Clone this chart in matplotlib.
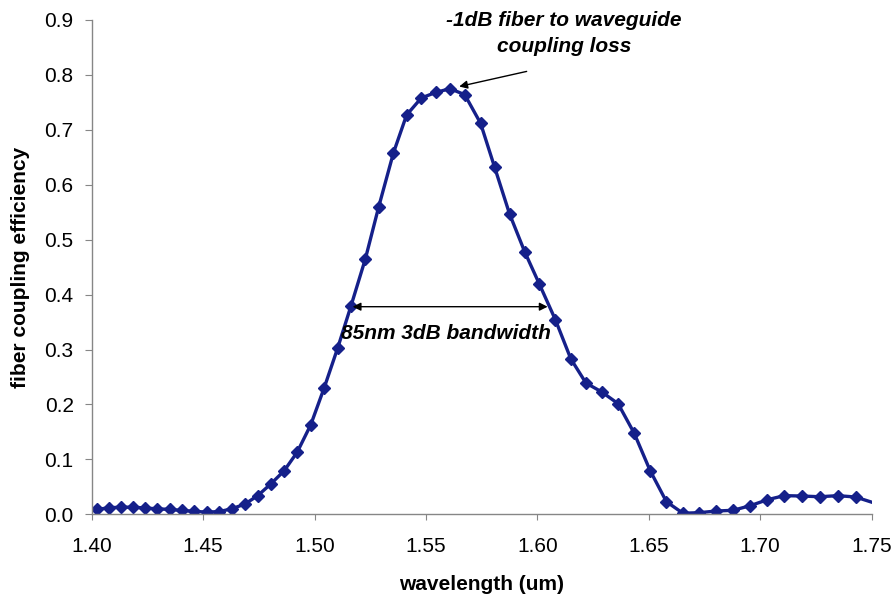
import matplotlib
matplotlib.use('Agg')
from matplotlib import pyplot as plt

plt.rcParams['font.family'] = ['Liberation Sans', 'DejaVu Sans']

# wavelength (um) and coupling efficiency
wavelength = [1.4025, 1.4078, 1.4132, 1.4187, 1.4241, 1.4294, 1.4350, 1.4404,
              1.4459, 1.4516, 1.4572, 1.4629, 1.4689, 1.4745, 1.4803, 1.4863,
              1.4922, 1.4983, 1.5043, 1.5104, 1.5164, 1.5228, 1.5288, 1.5354,
              1.5413, 1.5479, 1.5543, 1.5608, 1.5674, 1.5745, 1.5808, 1.5875,
              1.5943, 1.6009, 1.6081, 1.6150, 1.6218, 1.6288, 1.6362, 1.6434,
              1.6506, 1.6579, 1.6653, 1.6727, 1.6802, 1.6878, 1.6955, 1.7032,
              1.7108, 1.7187, 1.7267, 1.7348, 1.7428, 1.7524]
efficiency = [0.009, 0.012, 0.013, 0.013, 0.0115, 0.010, 0.009, 0.007,
              0.0055, 0.004, 0.005, 0.010, 0.019, 0.034, 0.055, 0.079,
              0.113, 0.163, 0.230, 0.303, 0.380, 0.465, 0.560, 0.658,
              0.727, 0.758, 0.768, 0.775, 0.764, 0.712, 0.632, 0.547,
              0.478, 0.419, 0.354, 0.283, 0.239, 0.223, 0.2015, 0.148,
              0.0795, 0.023, 0.002, 0.003, 0.006, 0.0073, 0.0157, 0.0266,
              0.034, 0.0333, 0.032, 0.034, 0.0315, 0.019]

xticks = [1.40, 1.45, 1.50, 1.55, 1.60, 1.65, 1.70, 1.75]
yticks = [0.0, 0.1, 0.2, 0.3, 0.4, 0.5, 0.6, 0.7, 0.8, 0.9]

navy = '#15208a'
grey = '#868686'
fs = 15

fig = plt.figure(figsize=(8.92, 5.95), dpi=100)
ax = fig.add_axes([0.1028, 0.1356, 0.8744, 0.8308])

ax.plot(wavelength, efficiency, color=navy, lw=2.4, marker='D', ms=6.3,
        markevery=list(range(len(wavelength) - 1)))

ax.set_xlim(1.40, 1.75)
ax.set_ylim(0.0, 0.9)
ax.set_xticks(xticks)
ax.set_xticklabels(['%.2f' % t for t in xticks])
ax.set_yticks(yticks)
ax.set_yticklabels(['%.1f' % t for t in yticks])

for s in ('top', 'right'):
    ax.spines[s].set_visible(False)
for s in ('left', 'bottom'):
    ax.spines[s].set_color(grey)
    ax.spines[s].set_linewidth(1)
ax.tick_params(axis='x', direction='out', length=4.3, color=grey,
               labelsize=fs, pad=12)
ax.tick_params(axis='y', direction='out', length=5, color=grey,
               labelsize=fs, pad=8)

fig.text(481.7 / 892, 1 - 590 / 595, 'wavelength (um)', ha='center',
         va='baseline', fontsize=fs, fontweight='bold')
fig.text(21 / 892, 1 - 267 / 595, 'fiber coupling efficiency', ha='center',
         va='center', rotation=90, fontsize=fs, fontweight='bold')

# -1dB annotation
ax.annotate('', xy=(1.5637, 0.7778), xytext=(1.5964, 0.8075),
            arrowprops=dict(arrowstyle='-|>', color='black', lw=1,
                            mutation_scale=12))
ax.text(1.6118, 0.899, '-1dB fiber to waveguide', ha='center', va='center',
        fontsize=fs, fontweight='bold', fontstyle='italic')
ax.text(1.6118, 0.8517, 'coupling loss', ha='center', va='center',
        fontsize=fs, fontweight='bold', fontstyle='italic')

# bandwidth annotation
ax.annotate('', xy=(1.5171, 0.378), xytext=(1.6046, 0.378),
            arrowprops=dict(arrowstyle='<|-|>', color='black', lw=1,
                            mutation_scale=12, shrinkA=0, shrinkB=0))
ax.text(1.5590, 0.330, '85nm 3dB bandwidth', ha='center', va='center',
        fontsize=fs, fontweight='bold', fontstyle='italic')

fig.savefig('out.png', dpi=100)
